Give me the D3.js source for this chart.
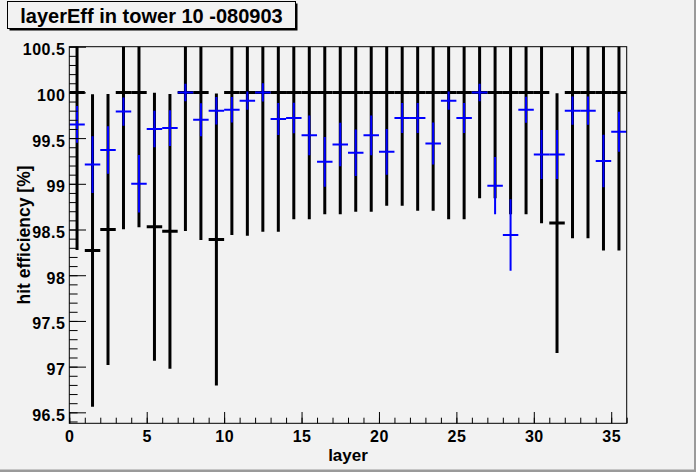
<!DOCTYPE html>
<html>
<head>
<meta charset="utf-8">
<script src="https://cdn.jsdelivr.net/npm/d3@7"></script>
<style>
  body { margin: 0; background: #f2f2f2; }
  svg { display: block; }
  text { font-family: "Liberation Sans", Arial, Helvetica, sans-serif; font-weight: bold; }
</style>
</head>
<body>
<script>
const width = 696;
const height = 472;

// bins 0..35 (layer), values in %
const layers = d3.range(36);

const blueEff = [
    99.65, 99.21, 99.37, 99.79, 99.00, 99.60, 99.61, 100.00, 99.70, 99.80,
    99.81, 99.91, 100.00, 99.71, 99.72, 99.53, 99.24, 99.43, 99.34, 99.53,
    99.35, 99.72, 99.72, 99.44, 99.91, 99.72, 100.00, 98.98, 98.44, 99.81,
    99.32, 99.32, 99.80, 99.80, 99.25, 99.57
];
const blueErr = [
    0.20, 0.31, 0.26, 0.155, 0.315, 0.20, 0.195, 0.096, 0.18, 0.15,
    0.14, 0.10, 0.10, 0.175, 0.167, 0.217, 0.271, 0.237, 0.255, 0.217,
    0.25, 0.164, 0.164, 0.23, 0.10, 0.164, 0.096, 0.314, 0.392, 0.142,
    0.268, 0.268, 0.155, 0.155, 0.288, 0.219
];

const blackEff = [
    100, 98.27, 98.50, 100, 100, 98.53, 98.48, 100, 100, 98.39,
    100, 100, 100, 100, 100, 100, 100, 100, 100, 100,
    100, 100, 100, 100, 100, 100, 100, 100, 100, 100,
    100, 98.57, 100, 100, 100, 100
];
const blackErr = [
    1.724, 1.71, 1.483, 1.498, 1.476, 1.466, 1.503, 1.516, 1.615, 1.597,
    1.56, 1.568, 1.524, 1.524, 1.388, 1.388, 1.334, 1.334, 1.305, 1.305,
    1.24, 1.24, 1.294, 1.294, 1.388, 1.388, 1.159, 1.159, 1.334, 1.334,
    1.432, 1.422, 1.596, 1.596, 1.73, 1.73
];

const xTicks = [0, 5, 10, 15, 20, 25, 30, 35];
const yTicks = [96.5, 97, 97.5, 98, 98.5, 99, 99.5, 100, 100.5];

const frame = { left: 69.3, right: 626.7, top: 46.7, bottom: 423.3 };

const x = d3.scaleLinear().domain([0, 36]).range([frame.left, frame.right]);
const y = d3.scaleLinear().domain([96.38, 100.5]).range([frame.bottom, frame.top]);

const svg = d3.select('body')
    .append('svg')
    .attr('width', width)
    .attr('height', height);

svg.append('rect')
    .attr('width', width)
    .attr('height', height)
    .attr('fill', '#f2f2f2');

// canvas bevel
svg.append('rect').attr('x', 0).attr('y', height - 2.5).attr('width', width).attr('height', 2.5).attr('fill', '#9a9a9a');
svg.append('rect').attr('x', width - 2).attr('y', 0).attr('width', 2).attr('height', height).attr('fill', '#9a9a9a');

svg.append('clipPath')
    .attr('id', 'frameclip')
    .append('rect')
    .attr('x', frame.left)
    .attr('y', frame.top)
    .attr('width', frame.right - frame.left)
    .attr('height', frame.bottom - frame.top);

const plot = svg.append('g').attr('clip-path', 'url(#frameclip)');

const drawSeries = (vals, errs, color, lw) => {
    const g = plot.append('g')
        .attr('stroke', color)
        .attr('stroke-width', lw)
        .attr('fill', 'none');

    g.selectAll('line.v')
        .data(layers)
        .enter()
        .append('line')
        .attr('x1', d => x(d + 0.5))
        .attr('x2', d => x(d + 0.5))
        .attr('y1', d => y(vals[d] + errs[d]))
        .attr('y2', d => y(vals[d] - errs[d]));

    g.selectAll('line.h')
        .data(layers)
        .enter()
        .append('line')
        .attr('x1', d => x(d))
        .attr('x2', d => x(d + 1))
        .attr('y1', d => y(vals[d]))
        .attr('y2', d => y(vals[d]));
};

drawSeries(blackEff, blackErr, '#000', 3);
drawSeries(blueEff, blueErr, '#0000ff', 2);

// axes, ROOT style ticks pointing inward
const yMinor = d3.range(96.4, 100.51, 0.1).map(v => +v.toFixed(1));
const xMinor = d3.range(0, 37, 1);

svg.append('g')
    .attr('transform', `translate(${frame.left},0)`)
    .call(d3.axisLeft(y).tickValues(yMinor).tickSize(-8.3).tickFormat(''))
    .call(g => g.select('.domain').remove());

svg.append('g')
    .attr('transform', `translate(${frame.left},0)`)
    .call(d3.axisLeft(y).tickValues(yTicks).tickSize(-16.7).tickPadding(4).tickFormat(d3.format('')))
    .call(g => g.select('.domain').remove())
    .call(g => g.selectAll('text')
        .attr('dy', '0.5em')
        .attr('fill', '#000')
        .style('font-size', '16px')
        .style('letter-spacing', '0.5px'));

svg.append('g')
    .attr('transform', `translate(0,${frame.bottom})`)
    .call(d3.axisBottom(x).tickValues(xMinor).tickSize(-5.6).tickFormat(''))
    .call(g => g.select('.domain').remove());

svg.append('g')
    .attr('transform', `translate(0,${frame.bottom})`)
    .call(d3.axisBottom(x).tickValues(xTicks).tickSize(-11.3).tickFormat(d3.format('d')))
    .call(g => g.select('.domain').remove())
    .call(g => g.selectAll('text')
        .attr('y', 19)
        .attr('dy', 0)
        .attr('fill', '#000')
        .style('font-size', '16px')
        .style('letter-spacing', '0.5px'));

svg.selectAll('.tick line').attr('stroke', '#000').attr('stroke-width', 1);

// frame
svg.append('rect')
    .attr('x', frame.left)
    .attr('y', frame.top)
    .attr('width', frame.right - frame.left)
    .attr('height', frame.bottom - frame.top)
    .attr('fill', 'none')
    .attr('stroke', '#000')
    .attr('stroke-width', 1);

// axis titles
svg.append('text')
    .attr('x', (frame.left + frame.right) / 2)
    .attr('y', 461)
    .attr('text-anchor', 'middle')
    .style('font-size', '17px')
    .text('layer');

svg.append('text')
    .attr('transform', `translate(30,${(frame.top + frame.bottom) / 2}) rotate(-90)`)
    .attr('text-anchor', 'middle')
    .style('font-size', '17.5px')
    .text('hit efficiency [%]');

// title box
svg.append('rect')
    .attr('x', 9.5).attr('y', 3.5).attr('width', 288).attr('height', 27)
    .attr('fill', '#000');
svg.append('rect')
    .attr('x', 7.5).attr('y', 1.5).attr('width', 288).attr('height', 27)
    .attr('fill', '#f2f2f2')
    .attr('stroke', '#000')
    .attr('stroke-width', 1);

svg.append('text')
    .attr('x', 151.5)
    .attr('y', 22.5)
    .attr('text-anchor', 'middle')
    .style('font-size', '20px')
    .text('layerEff in tower 10 -080903');
</script>
</body>
</html>
